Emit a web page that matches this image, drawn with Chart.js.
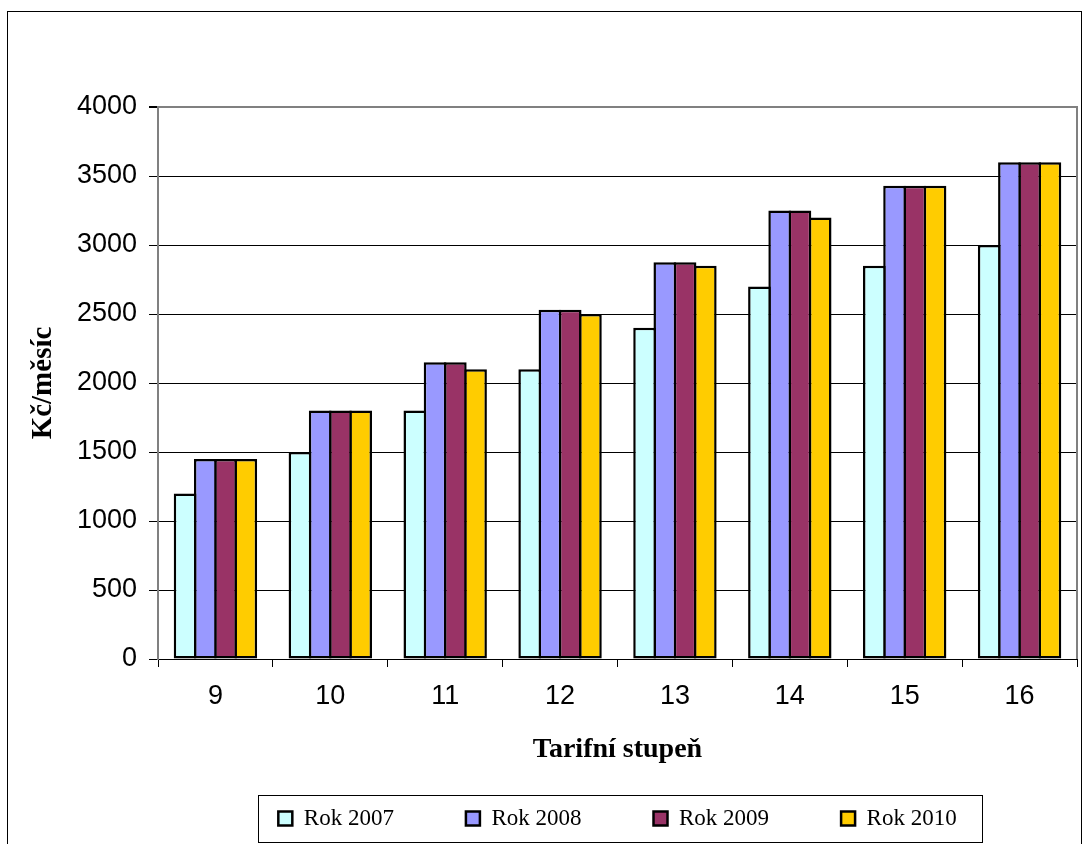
<!DOCTYPE html>
<html>
<head>
<meta charset="utf-8">
<script src="https://cdn.jsdelivr.net/npm/chart.js@4.4.1/dist/chart.umd.min.js"></script>
<style>
  html, body { margin: 0; padding: 0; background: #ffffff; }
  #wrap { width: 1084px; height: 844px; position: relative; }
</style>
</head>
<body>
<div id="wrap"><canvas id="c" width="1084" height="844"></canvas></div>
<script>
// Tarifní stupně a měsíční částky (Kč) za jednotlivé roky
const categories = ['9', '10', '11', '12', '13', '14', '15', '16'];
const rok2007 = [1200, 1500, 1800, 2100, 2400, 2700, 2850, 3000];
const rok2008 = [1450, 1800, 2150, 2530, 2875, 3250, 3430, 3600];
const rok2009 = [1450, 1800, 2150, 2530, 2875, 3250, 3430, 3600];
const rok2010 = [1450, 1800, 2100, 2500, 2850, 3200, 3430, 3600];
const seriesLabels = ['Rok 2007', 'Rok 2008', 'Rok 2009', 'Rok 2010'];
const yTicks = [0, 500, 1000, 1500, 2000, 2500, 3000, 3500, 4000];

const colors = ['#CCFFFF', '#9999FF', '#993366', '#FFCC00'];
const series = [rok2007, rok2008, rok2009, rok2010];

const SANS = '"Liberation Sans", Arial, sans-serif';
const SERIF = '"Liberation Serif", "Times New Roman", serif';

// Outer frame, plot frame and the border around the legend
const frames = {
  id: 'frames',
  beforeDatasetsDraw(chart) {
    const {ctx, chartArea: a} = chart;
    ctx.save();
    ctx.strokeStyle = '#808080';
    ctx.lineWidth = 2;
    ctx.beginPath();
    ctx.moveTo(a.left, a.top);
    ctx.lineTo(a.right, a.top);
    ctx.lineTo(a.right, a.bottom);
    ctx.stroke();
    ctx.restore();
  },
  afterDraw(chart) {
    const {ctx, width, height} = chart;
    ctx.save();
    ctx.strokeStyle = '#000000';
    ctx.lineWidth = 1;
    ctx.strokeRect(7.5, 11.5, width - 10, height + 5);
    const boxes = chart.legend.legendHitBoxes;
    if (boxes && boxes.length) {
      const first = boxes[0], last = boxes[boxes.length - 1];
      const l = Math.round(first.left - 20) + 0.5;
      const r = Math.round(last.left + last.width + 25) + 0.5;
      const cy = first.top + first.height / 2;
      const t = Math.round(cy - 24) + 0.5;
      ctx.strokeRect(l, t, r - l, 47);
    }
    ctx.restore();
  }
};

new Chart(document.getElementById('c'), {
  type: 'bar',
  data: {
    labels: categories,
    datasets: series.map((values, i) => ({
      label: seriesLabels[i],
      data: values,
      backgroundColor: colors[i],
      borderColor: '#000000',
      borderWidth: 2.5,
      borderSkipped: false,
      barPercentage: 1.1236,
      categoryPercentage: 0.7043
    }))
  },
  options: {
    responsive: false,
    animation: false,
    devicePixelRatio: 1,
    layout: { padding: { left: 0, top: 107, right: 7, bottom: 4 } },
    plugins: {
      legend: {
        position: 'bottom',
        fullSize: false,
        labels: {
          color: '#000000',
          font: { family: SERIF, size: 23 },
          boxWidth: 14,
          boxHeight: 14,
          padding: 72
        }
      },
      tooltip: { enabled: false }
    },
    scales: {
      x: {
        offset: true,
        grid: {
          offset: true,
          drawOnChartArea: false,
          drawTicks: true,
          tickLength: 8,
          color: '#000000',
          lineWidth: 1
        },
        border: { color: '#000000', width: 1 },
        ticks: {
          color: '#000000',
          font: { family: SANS, size: 27 },
          padding: 13,
          maxRotation: 0
        },
        title: {
          display: true,
          text: 'Tarifní stupeň',
          color: '#000000',
          font: { family: SERIF, size: 28, weight: 'bold', lineHeight: 1.2 },
          padding: { top: 0, bottom: -32 }
        },
        afterFit(scale) { scale.height = 76; }
      },
      y: {
        min: 0,
        max: 4000,
        afterBuildTicks(scale) { scale.ticks = yTicks.map(v => ({ value: v })); },
        grid: {
          color: ctx => (ctx.tick && ctx.tick.value === 4000 ? '#808080' : '#000000'),
          lineWidth: ctx => (ctx.tick && ctx.tick.value === 4000 ? 2 : 1),
          tickColor: '#000000',
          tickLength: 9,
          drawTicks: true
        },
        border: { color: '#808080', width: 2 },
        ticks: {
          color: '#000000',
          font: { family: SANS, size: 27 },
          padding: 12,
          callback: v => String(v)
        },
        title: {
          display: true,
          text: 'Kč/měsíc',
          color: '#000000',
          font: { family: SERIF, size: 29, weight: 'bold', lineHeight: 1.2 },
          padding: { top: 26, bottom: 0 }
        },
        afterFit(scale) { scale.width = 158; }
      }
    }
  },
  plugins: [frames]
});
</script>
</body>
</html>
